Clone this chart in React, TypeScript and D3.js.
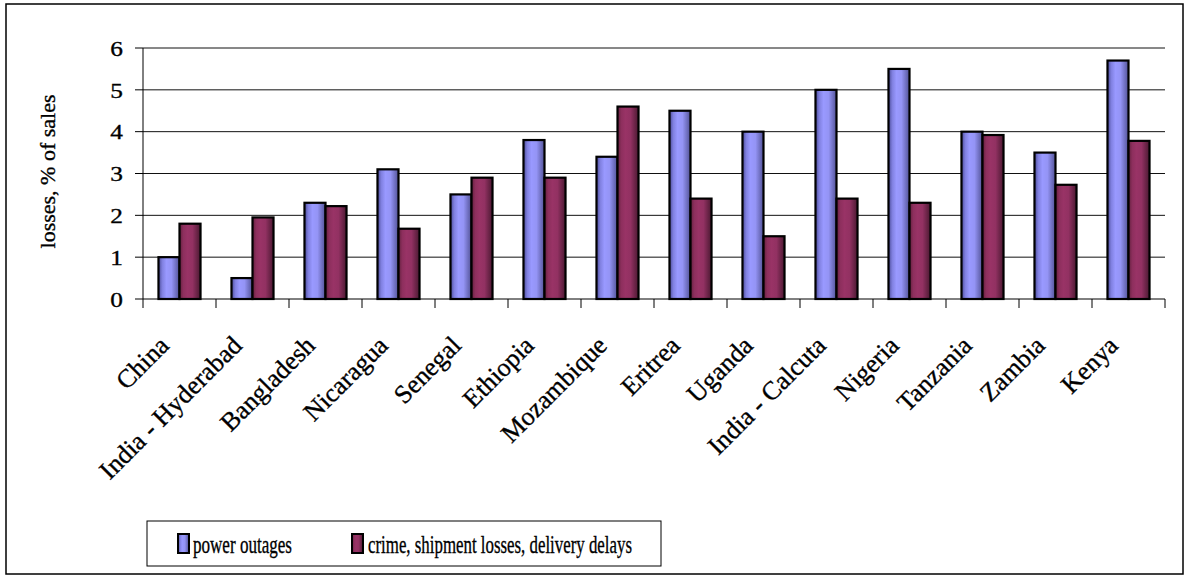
import React from "react";
import * as d3 from "d3";

const categories = [
  "China", "India - Hyderabad", "Bangladesh", "Nicaragua", "Senegal", "Ethiopia",
  "Mozambique", "Eritrea", "Uganda", "India - Calcuta", "Nigeria", "Tanzania", "Zambia", "Kenya",
];
const seriesNames = ["power outages", "crime, shipment losses, delivery delays"];
const powerOutages = [1.0, 0.5, 2.3, 3.1, 2.5, 3.8, 3.4, 4.5, 4.0, 5.0, 5.5, 4.0, 3.5, 5.7];
const crimeLosses = [1.8, 1.95, 2.22, 1.68, 2.9, 2.9, 4.6, 2.4, 1.5, 2.4, 2.3, 3.92, 2.73, 3.78];
const yTicks = [0, 1, 2, 3, 4, 5, 6];

const W = 1185;
const H = 576;
const left = 143;
const right = 1165;
const top = 48;
const bottom = 299;

export default function App() {
  const x = d3.scaleBand<string>().domain(categories).range([left, right]).padding(0);
  const bw = x.bandwidth();
  const barW = bw * 0.288;
  const inner = d3
    .scaleBand<string>()
    .domain(seriesNames)
    .range([(bw - 2 * barW) / 2, (bw + 2 * barW) / 2])
    .padding(0);
  const y = d3.scaleLinear().domain([0, 6]).range([bottom, top]);
  const values = [powerOutages, crimeLosses];
  const fills = ["url(#gBlue)", "url(#gRed)"];
  const font = "'Liberation Serif', 'Times New Roman', serif";
  const txt = { stroke: "#000", strokeWidth: 0.35 };

  return (
    <svg width={W} height={H} style={{ position: "absolute", left: 0, top: 0, background: "#fff", fontFamily: font }}>
      <defs>
        <linearGradient id="gBlue" x1="0" x2="1" y1="0" y2="0">
          <stop offset="0%" stopColor="#4a4a96" />
          <stop offset="18%" stopColor="#8080e0" />
          <stop offset="38%" stopColor="#9999ff" />
          <stop offset="62%" stopColor="#9494f5" />
          <stop offset="100%" stopColor="#525296" />
        </linearGradient>
        <linearGradient id="gRed" x1="0" x2="1" y1="0" y2="0">
          <stop offset="0%" stopColor="#62203d" />
          <stop offset="18%" stopColor="#8d2f5d" />
          <stop offset="38%" stopColor="#993366" />
          <stop offset="62%" stopColor="#923162" />
          <stop offset="100%" stopColor="#4a1931" />
        </linearGradient>
      </defs>
      <rect x={6} y={4} width={1177} height={570} fill="#fff" stroke="#000" strokeWidth={1.5} />

      {/* gridlines */}
      {yTicks.slice(1).map((t) => (
        <line key={t} x1={left} x2={right} y1={y(t)} y2={y(t)} stroke="#111" strokeWidth={1} />
      ))}

      {/* bars */}
      {categories.map((c, i) => (
        <g key={c} transform={`translate(${x(c)},0)`}>
          {seriesNames.map((s, j) => (
            <rect
              key={s}
              x={inner(s)}
              y={y(values[j][i])}
              width={inner.bandwidth()}
              height={y(0) - y(values[j][i])}
              fill={fills[j]}
              stroke="#000"
              strokeWidth={2.2}
            />
          ))}
        </g>
      ))}

      {/* y axis */}
      <line x1={left} x2={left} y1={top} y2={bottom} stroke="#000" strokeWidth={1} />
      {yTicks.map((t) => (
        <g key={t}>
          <line x1={left - 8} x2={left} y1={y(t)} y2={y(t)} stroke="#000" strokeWidth={1} />
          <text
            transform={`translate(${left - 20},${y(t)}) scale(1.15,1)`}
            dy="0.35em"
            textAnchor="end"
            style={{ fontSize: "22px", ...txt }}
          >
            {t}
          </text>
        </g>
      ))}
      <text
        transform={`translate(55,${(top + bottom) / 2 - 2}) rotate(-90)`}
        textAnchor="middle"
        style={{ fontSize: "22px", ...txt }}
      >
        losses, % of sales
      </text>

      {/* x axis */}
      <line x1={left} x2={right} y1={bottom} y2={bottom} stroke="#000" strokeWidth={1} />
      {d3.range(categories.length + 1).map((k) => (
        <line
          key={k}
          x1={left + k * bw}
          x2={left + k * bw}
          y1={bottom}
          y2={bottom + 9}
          stroke="#000"
          strokeWidth={1}
        />
      ))}
      {categories.map((c) => (
        <text
          key={c}
          transform={`translate(${(x(c) as number) + bw / 2 - 9},347) rotate(-45)`}
          textAnchor="end"
          style={{ fontSize: "26px", ...txt }}
        >
          {c}
        </text>
      ))}

      {/* legend */}
      <rect x={147} y={521} width={514} height={45} fill="#fff" stroke="#000" strokeWidth={1} />
      <rect x={178} y={534} width={11} height={19} fill={fills[0]} stroke="#000" strokeWidth={2} />
      <text x={193} y={553} style={{ fontSize: "26px", ...txt }} textLength={99} lengthAdjust="spacingAndGlyphs">
        {seriesNames[0]}
      </text>
      <rect x={352} y={534} width={11} height={19} fill={fills[1]} stroke="#000" strokeWidth={2} />
      <text x={368} y={553} style={{ fontSize: "26px", ...txt }} textLength={264} lengthAdjust="spacingAndGlyphs">
        {seriesNames[1]}
      </text>
    </svg>
  );
}
